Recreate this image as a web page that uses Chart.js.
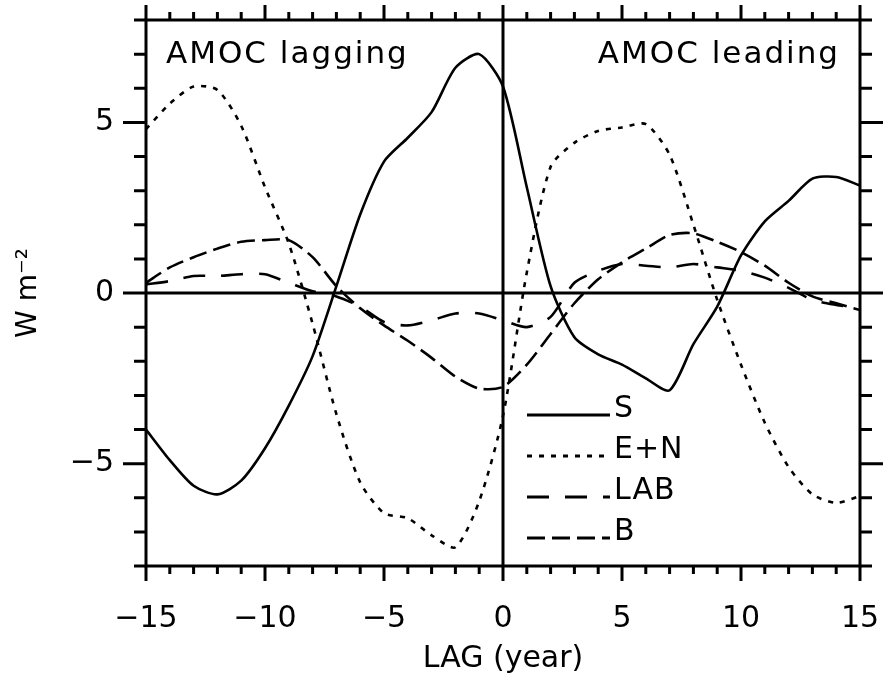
<!DOCTYPE html>
<html>
<head>
<meta charset="utf-8">
<title>AMOC lag regression</title>
<script src="https://cdn.jsdelivr.net/npm/chart.js@4.4.0/dist/chart.umd.min.js"></script>
<style>
  html, body { margin: 0; padding: 0; background: #fff; }
  #wrap { width: 886px; height: 678px; }
</style>
</head>
<body>
<div id="wrap"><canvas id="lagChart" width="886" height="678"></canvas></div>
<script>
// lag in years (negative: AMOC lagging)
const lags = [-15, -14, -13, -12, -11, -10, -9, -8, -7, -6, -5, -4, -3, -2, -1, 0,
              1, 2, 3, 4, 5, 6, 7, 8, 9, 10, 11, 12, 13, 14, 15];

// heat flux components, W m-2
const sFlux = [-4.0, -4.9, -5.65, -5.9, -5.5, -4.55, -3.3, -1.85, 0.2, 2.3, 3.85, 4.55, 5.3, 6.6, 7.0, 6.05,
               3.1, 0.2, -1.3, -1.8, -2.1, -2.5, -2.85, -1.5, -0.4, 1.1, 2.1, 2.7, 3.35, 3.4, 3.15];
const enFlux = [4.8, 5.55, 6.05, 5.95, 4.9, 3.1, 1.45, -0.9, -3.55, -5.55, -6.45, -6.6, -7.1, -7.45, -6.1, -3.6,
                0.6, 3.7, 4.4, 4.75, 4.85, 4.95, 4.05, 2.0, -0.2, -2.1, -3.8, -5.1, -5.9, -6.15, -5.95];
const labFlux = [0.25, 0.35, 0.5, 0.5, 0.55, 0.55, 0.3, 0.05, -0.1, -0.4, -0.85, -0.95, -0.8, -0.6, -0.6, -0.8,
                 -1.0, -0.7, 0.3, 0.65, 0.85, 0.8, 0.75, 0.85, 0.75, 0.65, 0.45, 0.15, -0.2, -0.35, -0.45];
const bFlux = [0.3, 0.75, 1.05, 1.3, 1.5, 1.55, 1.55, 1.05, 0.2, -0.45, -0.95, -1.4, -1.9, -2.45, -2.8, -2.75,
               -2.1, -1.2, -0.3, 0.4, 0.9, 1.3, 1.7, 1.75, 1.5, 1.2, 0.8, 0.3, -0.1, -0.3, -0.5];

const xMajorTicks = [-15, -10, -5, 0, 5, 10, 15];
const yMajorTicks = [-5, 0, 5];
const panelLabels = ['AMOC lagging', 'AMOC leading'];

const FONT = 'DejaVu Sans';
Chart.defaults.font.family = FONT;
Chart.defaults.color = '#000';

function fmt(v) {
    return v < 0 ? '\u2212' + Math.abs(v) : String(v);
}

function series(label, values, dash) {
    return {
        label: label,
        data: lags.map((l, i) => ({x: l, y: values[i]})),
        borderColor: '#000',
        borderWidth: 2.6,
        borderDash: dash,
        pointRadius: 0,
        tension: 0.25,
        fill: false
    };
}

// the labels may not push the plot box around
function noOverflow(s) {
    s.paddingTop = 0; s.paddingBottom = 0;
    s.paddingLeft = 0; s.paddingRight = 0;
}

// frame, zero lines, ticks on all four sides, panel labels and the legend
const framePlugin = {
    id: 'frame',
    afterDatasetsDraw(chart) {
        const {ctx, chartArea: a, scales: {x, y}} = chart;
        ctx.save();
        ctx.strokeStyle = '#000';
        ctx.lineWidth = 3;
        ctx.setLineDash([]);
        ctx.strokeRect(a.left, a.top, a.right - a.left, a.bottom - a.top);

        ctx.beginPath();
        const x0 = x.getPixelForValue(0), y0 = y.getPixelForValue(0);
        ctx.moveTo(x0, a.top); ctx.lineTo(x0, a.bottom);
        ctx.moveTo(a.left, y0); ctx.lineTo(a.right, y0);

        x.ticks.forEach(t => {
            const px = x.getPixelForValue(t.value);
            const len = xMajorTicks.includes(t.value) ? 15 : 8;
            ctx.moveTo(px, a.bottom); ctx.lineTo(px, a.bottom + len);
            ctx.moveTo(px, a.top); ctx.lineTo(px, a.top - len);
        });
        y.ticks.forEach(t => {
            const py = y.getPixelForValue(t.value);
            const len = yMajorTicks.includes(t.value) ? 23 : 12;
            ctx.moveTo(a.left, py); ctx.lineTo(a.left - len, py);
            ctx.moveTo(a.right, py); ctx.lineTo(a.right + len, py);
        });
        ctx.stroke();

        // panel labels
        ctx.fillStyle = '#000';
        ctx.font = '31px ' + FONT;
        ctx.letterSpacing = '2px';
        ctx.textBaseline = 'alphabetic';
        ctx.textAlign = 'left';
        ctx.fillText(panelLabels[0], a.left + 20, a.top + 43);
        ctx.textAlign = 'right';
        ctx.fillText(panelLabels[1], a.right - 20, a.top + 43);

        // legend
        const lx = a.left + 381, lw = 83;
        ctx.textAlign = 'left';
        ctx.font = '30px ' + FONT;
        ctx.letterSpacing = '1px';
        chart.data.datasets.forEach((ds, i) => {
            const ly = a.top + 395 + i * 41;
            ctx.beginPath();
            ctx.lineWidth = 3;
            ctx.setLineDash(ds.borderDash || []);
            ctx.moveTo(lx, ly); ctx.lineTo(lx + lw, ly);
            ctx.stroke();
            ctx.fillText(ds.label, lx + lw + 4, ly + 2);
        });
        ctx.restore();
    }
};

new Chart(document.getElementById('lagChart'), {
    type: 'line',
    data: {
        datasets: [
            series('S', sFlux, []),
            series('E+N', enFlux, [5, 7]),
            series('LAB', labFlux, [22, 16]),
            series('B', bFlux, [18, 7])
        ]
    },
    options: {
        responsive: false,
        animation: false,
        layout: {padding: {top: 20, right: 26, left: 0, bottom: 0}},
        plugins: {legend: {display: false}, tooltip: {enabled: false}},
        scales: {
            x: {
                type: 'linear',
                min: -15, max: 15,
                grid: {display: false, drawTicks: false},
                border: {display: false},
                ticks: {
                    stepSize: 1, autoSkip: false, maxRotation: 0,
                    font: {size: 30}, color: '#000', padding: 35,
                    callback: v => xMajorTicks.includes(v) ? fmt(v) : ''
                },
                title: {display: true, text: 'LAG (year)', font: {size: 30}, color: '#000', padding: {top: 0, bottom: 1}},
                afterFit: s => { s.height = 112; noOverflow(s); }
            },
            y: {
                min: -8, max: 8,
                grid: {display: false, drawTicks: false},
                border: {display: false},
                ticks: {
                    stepSize: 1, autoSkip: false,
                    font: {size: 30}, color: '#000', padding: 32,
                    callback: v => yMajorTicks.includes(v) ? fmt(v) : ''
                },
                title: {display: true, text: 'W m\u207B\u00B2', font: {size: 28}, color: '#000', padding: {top: 12, bottom: 0}},
                afterFit: s => { s.width = 146; noOverflow(s); }
            }
        }
    },
    plugins: [framePlugin]
});
</script>
</body>
</html>
